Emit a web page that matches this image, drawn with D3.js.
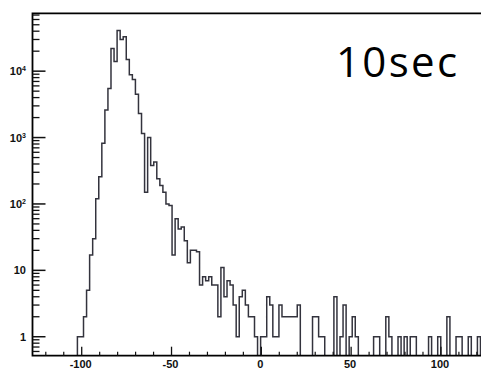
<!DOCTYPE html>
<html>
<head>
<meta charset="utf-8">
<script src="https://cdn.jsdelivr.net/npm/d3@7"></script>
<style>
  html, body { margin: 0; padding: 0; background: #fff; }
  svg { display: block; }
  .tick-label { font-family: "Liberation Sans", Arial, sans-serif; font-weight: bold; font-size: 11px; fill: #111; }
</style>
</head>
<body>
<div id="chart-area"></div>
<script>
/* CONSTANTS AND GLOBALS */
const W = 481, H = 370;
const plot = { left: 32.5, right: 481, top: 13.3, bottom: 355.7 };

// histogram: first bin edge, bin width (x units), counts per bin
const binLow = -102.4;
const binWidth = 1.7;
const counts = [
  1, 1, 2, 5, 17, 30, 120, 256, 820, 2600,
  5500, 22000, 14000, 41000, 30000, 33000, 15000, 8800, 7500, 4500,
  2300, 1150, 150, 1000, 380, 430, 240, 190, 150, 100,
  95, 17, 60, 42, 45, 28, 13, 20, 20, 19,
  6, 8, 7, 8, 6, 6, 2, 11, 4, 7,
  6, 3, 1, 4, 5, 3, 2, 2, 1, 0,
  1, 1, 4, 3, 1, 1, 3, 2, 2, 2,
  2, 2, 3, 0, 0, 0, 0, 2, 2, 1,
  1, 0, 0, 0, 4, 0, 1, 3, 0, 1,
  2, 1, 0, 0, 0, 0, 0, 1, 1, 0,
  0, 2, 1, 0, 0, 1, 0, 1, 0, 1,
  1, 0, 0, 0, 0, 1, 0, 0, 1, 0,
  0, 2, 0, 0, 1, 1, 0, 0, 1, 0,
  0, 1
];

const xDomain = [-127.4, 122.3];
const yDomain = [0.518, 74400];
const xMajor = [-100, -50, 0, 50, 100];
const xMinor = [-120, -110, -90, -80, -70, -60, -40, -30, -20, -10, 10, 20, 30, 40, 60, 70, 80, 90, 110, 120];
const yMajor = [1, 10, 100, 1000, 10000];
const yMajorLabels = [["1", ""], ["10", ""], ["10", "2"], ["10", "3"], ["10", "4"]];
const yMinor = [0.6, 0.7, 0.8, 0.9,
  2, 3, 4, 5, 6, 7, 8, 9,
  20, 30, 40, 50, 60, 70, 80, 90,
  200, 300, 400, 500, 600, 700, 800, 900,
  2000, 3000, 4000, 5000, 6000, 7000, 8000, 9000,
  20000, 30000, 40000, 50000, 60000, 70000];
const title = "10sec";

const svg = d3.select('#chart-area').append('svg')
  .attr('width', W).attr('height', H)
  .attr('viewBox', `0 0 ${W} ${H}`);

// Scales
const x = d3.scaleLinear().domain(xDomain).range([plot.left, plot.right]);
const y = d3.scaleLog().domain(yDomain).range([plot.bottom, plot.top]);

svg.append('clipPath').attr('id', 'clip')
  .append('rect')
  .attr('x', plot.left).attr('y', plot.top)
  .attr('width', plot.right - plot.left).attr('height', plot.bottom - plot.top);

// histogram outline (zero bins drop to the bottom of the frame)
const pts = [[binLow, null]];
counts.forEach((c, i) => pts.push([binLow + i * binWidth, c]));
pts.push([binLow + counts.length * binWidth, null]);

const line = d3.line()
  .x(d => x(d[0]))
  .y(d => (d[1] ? y(d[1]) : plot.bottom + 2))
  .curve(d3.curveStepAfter);

svg.append('path')
  .attr('clip-path', 'url(#clip)')
  .attr('d', line(pts))
  .attr('fill', 'none')
  .attr('stroke', '#33333d')
  .attr('stroke-width', 1.5);

// frame
svg.append('path')
  .attr('d', `M${plot.right},${plot.top}H${plot.left}V${plot.bottom}H${plot.right}`)
  .attr('fill', 'none')
  .attr('stroke', '#000')
  .attr('stroke-width', 1.8);

// y ticks (drawn inward)
svg.append('g').selectAll('line').data(yMinor).join('line')
  .attr('x1', plot.left).attr('x2', plot.left + 7)
  .attr('y1', d => y(d)).attr('y2', d => y(d))
  .attr('stroke', '#111').attr('stroke-width', 1.3);
svg.append('g').selectAll('line').data(yMajor).join('line')
  .attr('x1', plot.left).attr('x2', plot.left + 13)
  .attr('y1', d => y(d)).attr('y2', d => y(d))
  .attr('stroke', '#111').attr('stroke-width', 1.5);

const yl = svg.append('g').selectAll('text').data(yMajor).join('text')
  .attr('class', 'tick-label')
  .attr('x', 26)
  .attr('y', d => y(d) + 4)
  .attr('text-anchor', 'end');
yl.append('tspan').text((d, i) => yMajorLabels[i][0]);
yl.append('tspan')
  .attr('dy', -4).attr('font-size', 7)
  .text((d, i) => yMajorLabels[i][1]);

// x ticks (drawn inward)
svg.append('g').selectAll('line').data(xMinor).join('line')
  .attr('x1', d => x(d)).attr('x2', d => x(d))
  .attr('y1', plot.bottom).attr('y2', plot.bottom - 4)
  .attr('stroke', '#111').attr('stroke-width', 1.2);
svg.append('g').selectAll('line').data(xMajor).join('line')
  .attr('x1', d => x(d)).attr('x2', d => x(d))
  .attr('y1', plot.bottom).attr('y2', plot.bottom - 9)
  .attr('stroke', '#111').attr('stroke-width', 1.3);
svg.append('g').selectAll('text').data(xMajor).join('text')
  .attr('class', 'tick-label')
  .attr('x', d => x(d) - 1)
  .attr('y', 368)
  .attr('text-anchor', 'middle')
  .text(d => d);

// label
svg.append('text')
  .attr('x', 336).attr('y', 77)
  .attr('font-family', '"Open Sans", sans-serif')
  .attr('font-size', 42)
  .attr('textLength', 121)
  .attr('lengthAdjust', 'spacing')
  .attr('fill', '#000')
  .text(title);
</script>
</body>
</html>
